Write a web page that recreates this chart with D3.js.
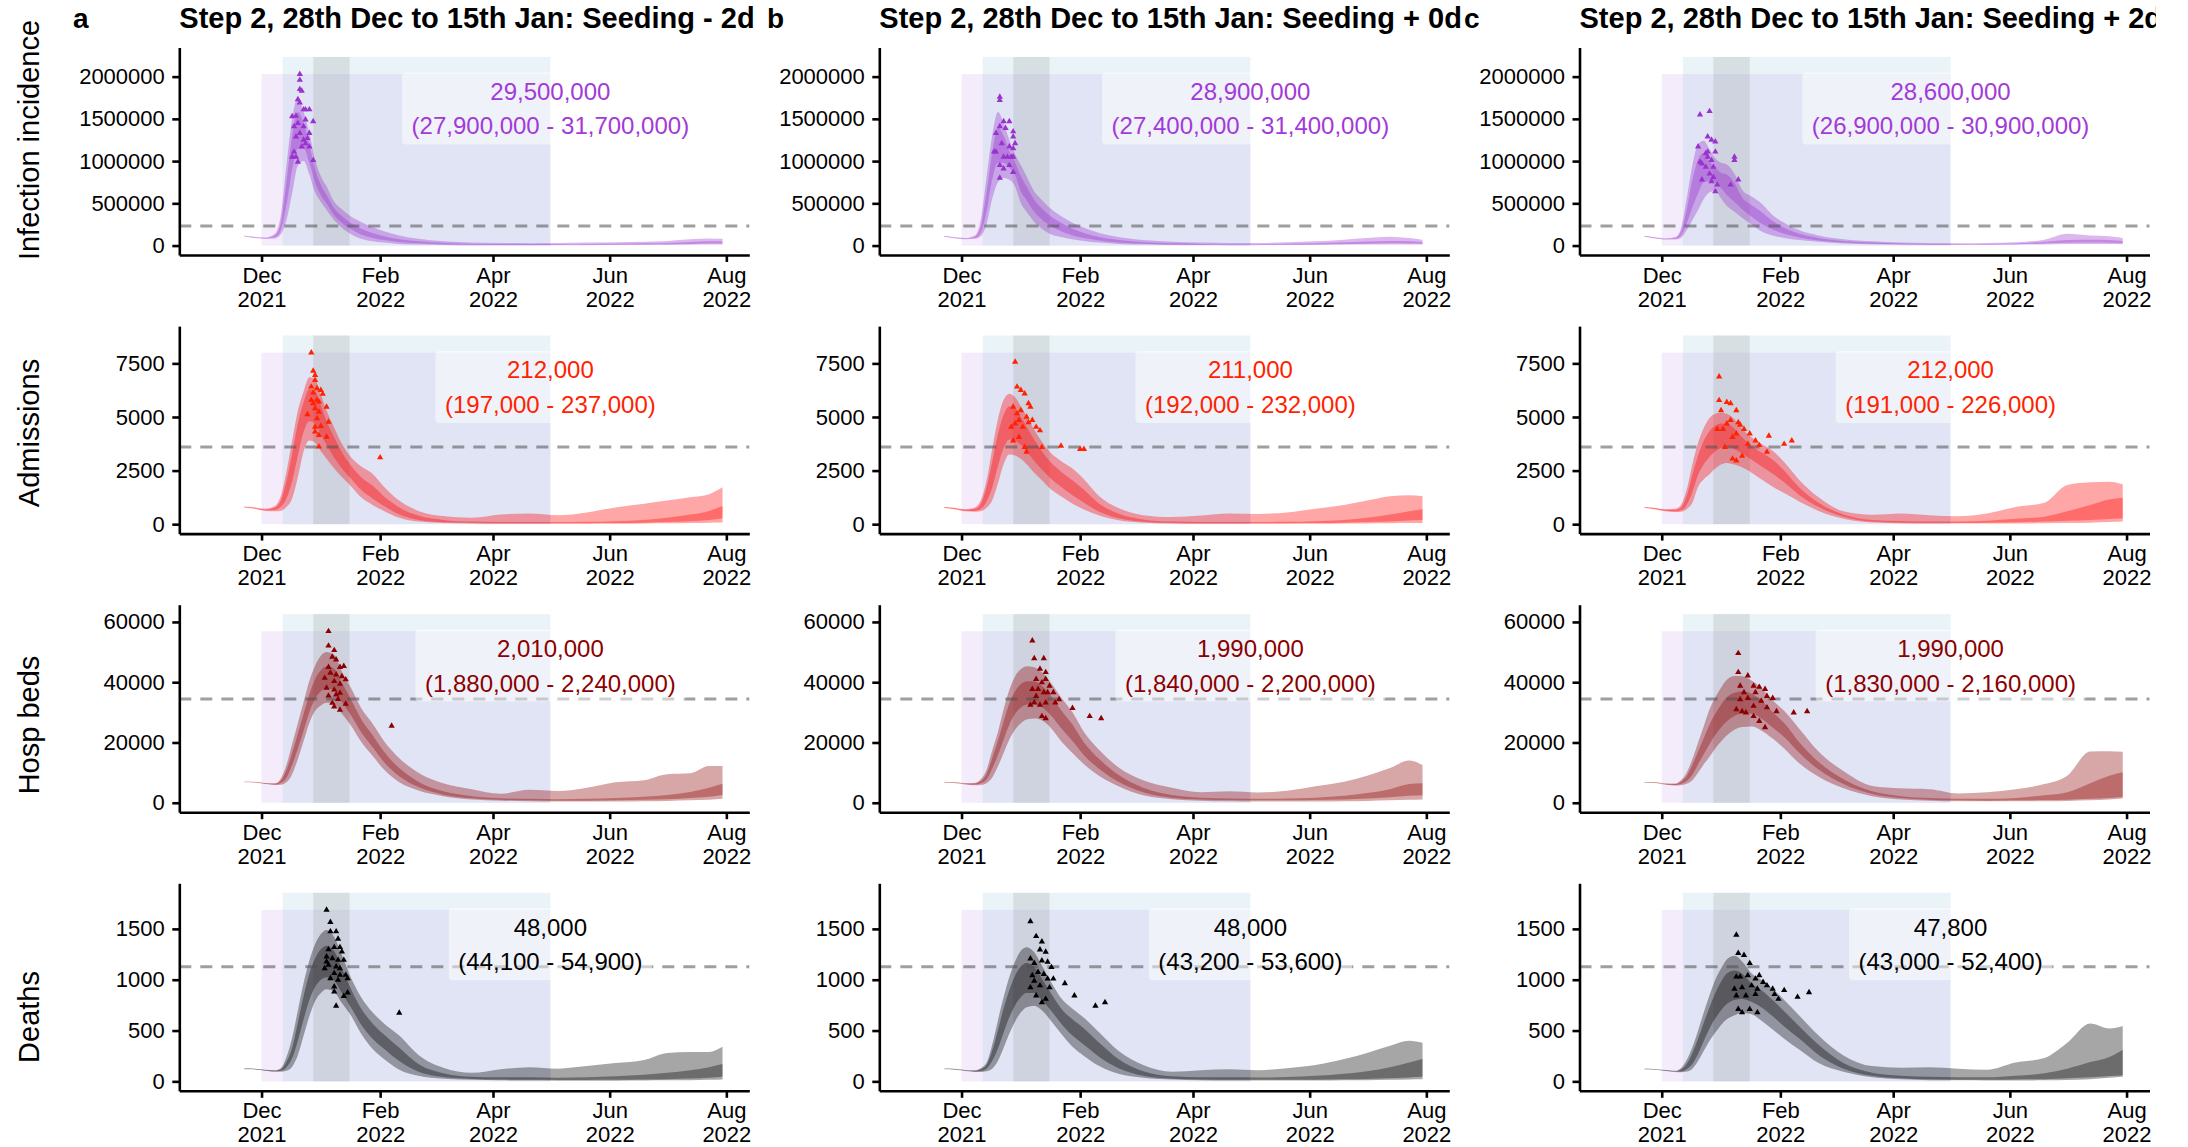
<!DOCTYPE html>
<html>
<head>
<meta charset="utf-8">
<script src="https://cdn.jsdelivr.net/npm/d3@7"></script>
<style>
  body { margin: 0; background: #fff; }
  svg { display: block; }
</style>
</head>
<body>
<svg id="chart" width="2188" height="1147"></svg>
<script>
// ---- data (days counted from 1 Dec 2021) ----
const sampleDays = [-9, -4, 2, 7, 10, 13, 16, 19, 22, 25, 28, 31, 34, 38, 42, 47, 52, 58, 64, 72, 82, 95, 110, 125, 140, 155, 170, 185, 200, 212, 224, 234, 241];

const rowLabels = ["Infection incidence", "Admissions", "Hosp beds", "Deaths"];
const scenarioTitles = [
  "Step 2, 28th Dec to 15th Jan: Seeding - 2d",
  "Step 2, 28th Dec to 15th Jan: Seeding + 0d",
  "Step 2, 28th Dec to 15th Jan: Seeding + 2d"
];
const panelTags = ["a", "b", "c"];
const rowUnits = [1e6, 1e3, 1e3, 1];   // values below are in millions / thousands / units
const yTicks = [[0, 500000, 1000000, 1500000, 2000000], [0, 2500, 5000, 7500], [0, 20000, 40000, 60000], [0, 500, 1000, 1500]];
const xTickDates = ["2021-12-01", "2022-02-01", "2022-04-01", "2022-06-01", "2022-08-01"];
const thresholds = [233000, 3600, 34400, 1128];
const stepPeriod = ["2021-12-01", "2022-05-01"];
const fitPeriod = ["2021-12-12", "2022-05-01"];
const stepWindow = ["2021-12-28", "2022-01-16"];

// infection incidence (millions): 95% and 50% bands, one list per scenario
const infectionHi95 = [
  [0.12, 0.105, 0.095, 0.14, 0.35, 0.95, 1.5, 1.76, 1.58, 1.33, 1.02, 0.82, 0.7, 0.52, 0.43, 0.34, 0.28, 0.22, 0.17, 0.12, 0.08, 0.05, 0.035, 0.03, 0.028, 0.03, 0.035, 0.04, 0.045, 0.055, 0.075, 0.085, 0.08],
  [0.115, 0.1, 0.09, 0.12, 0.3, 0.8, 1.3, 1.58, 1.45, 1.25, 1.08, 0.95, 0.82, 0.64, 0.54, 0.43, 0.35, 0.27, 0.21, 0.15, 0.1, 0.065, 0.045, 0.035, 0.03, 0.03, 0.04, 0.05, 0.07, 0.09, 0.105, 0.09, 0.07],
  [0.115, 0.1, 0.085, 0.1, 0.2, 0.55, 0.95, 1.2, 1.24, 1.14, 1.03, 0.98, 0.96, 0.85, 0.66, 0.58, 0.5, 0.36, 0.27, 0.18, 0.12, 0.075, 0.05, 0.035, 0.03, 0.028, 0.03, 0.04, 0.07, 0.14, 0.12, 0.11, 0.09]
];
const infectionLo95 = [
  [0.108, 0.09, 0.08, 0.085, 0.13, 0.3, 0.62, 0.95, 1.0, 0.84, 0.63, 0.52, 0.42, 0.3, 0.21, 0.13, 0.08, 0.05, 0.035, 0.02, 0.012, 0.008, 0.005, 0.004, 0.004, 0.004, 0.005, 0.006, 0.007, 0.008, 0.01, 0.012, 0.012],
  [0.105, 0.088, 0.075, 0.08, 0.11, 0.25, 0.55, 0.75, 0.8, 0.78, 0.7, 0.5, 0.4, 0.28, 0.2, 0.13, 0.1, 0.075, 0.055, 0.035, 0.02, 0.012, 0.008, 0.006, 0.005, 0.005, 0.006, 0.008, 0.01, 0.012, 0.014, 0.014, 0.013],
  [0.105, 0.088, 0.072, 0.072, 0.09, 0.18, 0.3, 0.42, 0.55, 0.63, 0.65, 0.56, 0.47, 0.4, 0.33, 0.25, 0.17, 0.12, 0.09, 0.065, 0.045, 0.025, 0.015, 0.01, 0.008, 0.007, 0.008, 0.01, 0.014, 0.02, 0.02, 0.018, 0.016]
];
const infectionHi50 = [
  [0.116, 0.1, 0.09, 0.12, 0.26, 0.75, 1.3, 1.58, 1.45, 1.2, 0.9, 0.72, 0.6, 0.44, 0.35, 0.26, 0.2, 0.15, 0.11, 0.075, 0.05, 0.03, 0.02, 0.017, 0.016, 0.017, 0.02, 0.022, 0.026, 0.03, 0.042, 0.05, 0.048],
  [0.112, 0.096, 0.085, 0.105, 0.22, 0.62, 1.1, 1.4, 1.3, 1.12, 0.98, 0.82, 0.7, 0.54, 0.44, 0.34, 0.27, 0.2, 0.15, 0.1, 0.065, 0.04, 0.026, 0.02, 0.017, 0.017, 0.022, 0.028, 0.038, 0.048, 0.055, 0.05, 0.042],
  [0.112, 0.095, 0.08, 0.09, 0.16, 0.42, 0.78, 1.02, 1.1, 1.0, 0.92, 0.86, 0.84, 0.74, 0.57, 0.48, 0.4, 0.29, 0.21, 0.14, 0.09, 0.055, 0.035, 0.024, 0.019, 0.017, 0.019, 0.025, 0.045, 0.065, 0.07, 0.065, 0.055]
];
const infectionLo50 = [
  [0.112, 0.095, 0.085, 0.1, 0.18, 0.48, 0.9, 1.15, 1.15, 0.98, 0.75, 0.6, 0.5, 0.36, 0.27, 0.19, 0.13, 0.09, 0.065, 0.042, 0.026, 0.016, 0.01, 0.008, 0.008, 0.008, 0.01, 0.011, 0.013, 0.015, 0.02, 0.024, 0.024],
  [0.108, 0.092, 0.08, 0.092, 0.15, 0.4, 0.78, 0.98, 0.98, 0.92, 0.84, 0.64, 0.54, 0.4, 0.31, 0.23, 0.17, 0.12, 0.09, 0.06, 0.035, 0.022, 0.014, 0.01, 0.009, 0.009, 0.011, 0.014, 0.018, 0.022, 0.026, 0.025, 0.022],
  [0.108, 0.09, 0.076, 0.08, 0.12, 0.26, 0.45, 0.62, 0.75, 0.76, 0.75, 0.68, 0.6, 0.52, 0.43, 0.34, 0.26, 0.19, 0.14, 0.095, 0.06, 0.036, 0.022, 0.015, 0.012, 0.011, 0.012, 0.015, 0.024, 0.032, 0.035, 0.032, 0.028]
];
const infectionObs = [
  [[20, 2.03], [20, 1.96], [20, 1.85], [21, 1.83], [16, 1.53], [18, 1.535], [22, 1.61], [23, 1.61], [25, 1.61], [19, 1.45], [23, 1.49], [27, 1.47], [17, 1.41], [20, 1.33], [25, 1.33], [18, 1.29], [22, 1.25], [25, 1.17], [17, 1.11], [21, 1.17], [23, 1.21], [16, 1.05], [19, 0.99], [27, 1.01], [18, 1.05], [22, 1.41], [24, 1.27], [20, 1.69], [19, 1.73]],
  [[20, 1.76], [20, 1.72], [18, 1.33], [20, 1.41], [22, 1.47], [23, 1.39], [25, 1.47], [27, 1.35], [27, 1.29], [18, 1.11], [21, 1.21], [22, 1.05], [25, 1.17], [27, 1.15], [28, 1.21], [20, 0.95], [22, 0.91], [25, 0.95], [27, 0.87], [20, 0.8], [24, 1.05], [26, 1.05], [17, 1.11], [27, 1.05]],
  [[20, 1.55], [25, 1.59], [24, 1.29], [26, 1.25], [28, 1.23], [19, 1.17], [23, 1.09], [24, 1.11], [28, 1.11], [20, 0.99], [21, 0.97], [26, 1.01], [27, 0.93], [25, 0.85], [27, 0.81], [21, 0.78], [26, 0.76], [28, 0.64], [38, 1.05], [38, 1.01], [40, 0.78], [36, 0.72], [29, 0.72], [23, 0.93], [24, 1.05]]
];
const infectionTotals = [
  ["29,500,000", "(27,900,000 - 31,700,000)"],
  ["28,900,000", "(27,400,000 - 31,400,000)"],
  ["28,600,000", "(26,900,000 - 30,900,000)"]
];

// admissions (thousands)
const admissionsHi95 = [
  [0.82, 0.79, 0.72, 0.85, 1.3, 2.45, 3.9, 5.3, 6.2, 6.85, 6.75, 6.05, 5.3, 4.5, 3.75, 3.1, 2.7, 2.35, 1.75, 1.1, 0.62, 0.38, 0.3, 0.45, 0.5, 0.42, 0.55, 0.78, 0.95, 1.1, 1.25, 1.4, 1.72],
  [0.8, 0.77, 0.7, 0.78, 1.1, 2.0, 3.5, 4.9, 5.8, 6.08, 5.92, 5.5, 5.05, 4.4, 3.85, 3.3, 2.95, 2.6, 2.1, 1.3, 0.75, 0.42, 0.33, 0.4, 0.5, 0.48, 0.55, 0.72, 0.9, 1.1, 1.3, 1.35, 1.3],
  [0.8, 0.77, 0.7, 0.72, 0.9, 1.6, 2.8, 3.8, 4.5, 4.95, 5.15, 5.2, 5.15, 4.9, 4.45, 4.05, 3.75, 3.42, 2.9, 2.05, 1.25, 0.6, 0.44, 0.5, 0.42, 0.37, 0.5, 0.8, 1.0, 1.83, 1.95, 1.98, 1.86]
];
const admissionsLo95 = [
  [0.78, 0.72, 0.62, 0.6, 0.62, 0.8, 1.2, 2.2, 3.4, 3.9, 3.8, 3.4, 3.05, 2.6, 2.2, 1.75, 1.25, 0.9, 0.62, 0.3, 0.12, 0.05, 0.03, 0.02, 0.02, 0.02, 0.02, 0.02, 0.03, 0.04, 0.05, 0.07, 0.08],
  [0.76, 0.7, 0.6, 0.58, 0.6, 0.75, 1.1, 1.9, 2.8, 3.25, 3.2, 3.05, 2.8, 2.4, 2.05, 1.6, 1.3, 0.95, 0.68, 0.4, 0.18, 0.07, 0.03, 0.02, 0.02, 0.02, 0.02, 0.02, 0.03, 0.035, 0.04, 0.05, 0.06],
  [0.76, 0.7, 0.6, 0.57, 0.58, 0.7, 1.0, 1.75, 2.1, 2.33, 2.6, 2.78, 2.85, 2.78, 2.65, 2.4, 2.1, 1.75, 1.45, 1.05, 0.62, 0.25, 0.08, 0.04, 0.03, 0.03, 0.03, 0.03, 0.04, 0.05, 0.07, 0.1, 0.12]
];
const admissionsHi50 = [
  [0.81, 0.77, 0.69, 0.78, 1.1, 2.0, 3.3, 4.7, 5.7, 6.3, 6.2, 5.55, 4.8, 4.05, 3.35, 2.7, 2.2, 1.8, 1.3, 0.78, 0.4, 0.2, 0.12, 0.1, 0.1, 0.1, 0.11, 0.14, 0.2, 0.3, 0.45, 0.62, 0.85],
  [0.79, 0.75, 0.67, 0.72, 0.95, 1.7, 2.9, 4.2, 5.1, 5.5, 5.4, 5.0, 4.55, 3.95, 3.4, 2.85, 2.45, 2.05, 1.6, 0.95, 0.5, 0.22, 0.12, 0.1, 0.1, 0.1, 0.11, 0.14, 0.2, 0.3, 0.45, 0.6, 0.7],
  [0.79, 0.75, 0.67, 0.67, 0.78, 1.3, 2.3, 3.2, 3.9, 4.35, 4.6, 4.7, 4.68, 4.45, 4.05, 3.65, 3.35, 3.0, 2.5, 1.7, 1.0, 0.45, 0.2, 0.15, 0.12, 0.12, 0.16, 0.25, 0.35, 0.6, 0.9, 1.15, 1.23]
];
const admissionsLo50 = [
  [0.79, 0.74, 0.65, 0.66, 0.8, 1.2, 2.0, 3.2, 4.3, 4.8, 4.7, 4.2, 3.7, 3.1, 2.6, 2.1, 1.6, 1.2, 0.85, 0.45, 0.2, 0.09, 0.05, 0.04, 0.04, 0.04, 0.045, 0.055, 0.07, 0.1, 0.14, 0.2, 0.28],
  [0.77, 0.72, 0.63, 0.62, 0.7, 1.05, 1.7, 2.7, 3.55, 3.95, 3.9, 3.7, 3.4, 2.95, 2.55, 2.1, 1.75, 1.35, 1.0, 0.58, 0.28, 0.11, 0.05, 0.04, 0.04, 0.04, 0.045, 0.055, 0.07, 0.1, 0.13, 0.17, 0.2],
  [0.77, 0.72, 0.63, 0.6, 0.64, 0.9, 1.5, 2.3, 2.8, 3.15, 3.4, 3.55, 3.6, 3.5, 3.3, 3.0, 2.7, 2.35, 1.95, 1.35, 0.8, 0.35, 0.12, 0.07, 0.06, 0.06, 0.07, 0.09, 0.12, 0.16, 0.2, 0.24, 0.28]
];
const admissionsObs = [
  [[26, 8.0], [27, 7.15], [28, 6.95], [28, 6.72], [26, 6.41], [29, 6.33], [31, 6.25], [32, 6.07], [27, 6.13], [26, 5.79], [29, 5.79], [30, 5.71], [34, 5.47], [24, 5.12], [28, 5.4], [30, 5.24], [35, 4.77], [28, 4.54], [31, 4.57], [28, 4.31], [30, 4.15], [34, 4.07], [30, 3.61], [62, 3.11], [29, 4.93], [27, 5.63]],
  [[28, 7.57], [29, 6.41], [31, 6.25], [33, 6.09], [35, 5.63], [36, 5.47], [27, 5.47], [29, 5.16], [31, 5.31], [34, 5.0], [37, 4.85], [26, 4.53], [28, 4.69], [30, 4.85], [32, 4.53], [35, 4.75], [39, 4.53], [27, 3.9], [30, 4.06], [33, 3.59], [34, 3.37], [42, 3.59], [52, 3.65], [62, 3.5], [64, 3.5], [41, 4.37]],
  [[30, 6.88], [30, 5.78], [31, 5.31], [34, 5.69], [36, 5.63], [39, 5.31], [29, 4.43], [32, 4.43], [34, 4.69], [36, 4.85], [40, 4.75], [41, 4.63], [43, 4.43], [39, 4.22], [37, 4.06], [46, 4.22], [49, 3.9], [51, 3.68], [56, 4.12], [64, 3.74], [68, 3.9], [33, 3.59], [37, 3.05], [39, 2.96], [42, 3.18], [55, 3.37], [45, 3.74]]
];
const admissionsTotals = [
  ["212,000", "(197,000 - 237,000)"],
  ["211,000", "(192,000 - 232,000)"],
  ["212,000", "(191,000 - 226,000)"]
];

// hospital beds (thousands)
const bedsHi95 = [
  [7.0, 7.0, 6.6, 6.5, 8.0, 12.5, 19.5, 26.5, 33.5, 40.5, 45.5, 48.8, 50.0, 49.0, 43.5, 37.8, 31.5, 26.3, 20.5, 14.8, 10.0, 6.5, 4.5, 3.0, 4.3, 3.9, 5.0, 6.8, 7.5, 9.5, 9.8, 12.2, 12.2],
  [6.9, 6.9, 6.5, 6.6, 7.8, 10.8, 17.3, 23.5, 31.0, 37.5, 42.0, 44.3, 45.3, 45.0, 43.3, 39.6, 35.0, 30.0, 23.5, 17.5, 11.8, 7.5, 5.0, 3.5, 3.8, 3.4, 4.0, 5.5, 7.0, 9.0, 11.5, 14.0, 12.5],
  [6.9, 6.9, 6.4, 6.4, 7.5, 10.0, 14.5, 20.0, 25.5, 31.0, 35.0, 38.2, 40.8, 42.1, 42.0, 40.6, 38.2, 34.0, 30.5, 24.5, 17.0, 10.5, 5.6, 4.8, 4.5, 3.1, 3.5, 4.5, 6.2, 9.0, 17.0, 17.1, 16.9]
];
const bedsLo95 = [
  [6.8, 6.7, 6.2, 5.9, 6.0, 6.8, 9.5, 14.5, 20.5, 26.5, 30.5, 32.3, 33.2, 32.6, 29.5, 25.4, 20.3, 15.6, 11.0, 6.8, 4.1, 2.2, 1.1, 0.7, 0.5, 0.4, 0.4, 0.4, 0.5, 0.6, 0.8, 1.0, 1.3],
  [6.7, 6.6, 6.1, 5.8, 5.9, 6.5, 8.3, 12.0, 16.5, 21.0, 24.3, 26.4, 27.6, 28.0, 27.4, 24.6, 20.5, 16.5, 12.8, 8.9, 5.5, 2.5, 1.2, 0.7, 0.5, 0.4, 0.4, 0.4, 0.5, 0.6, 0.8, 1.0, 1.1],
  [6.7, 6.6, 6.0, 5.7, 5.8, 6.3, 7.5, 10.0, 12.8, 15.3, 18.0, 20.3, 22.3, 24.2, 25.1, 25.3, 24.0, 21.3, 18.0, 13.0, 8.6, 4.8, 2.2, 1.1, 0.7, 0.5, 0.5, 0.5, 0.5, 0.6, 0.8, 1.1, 1.4]
];
const bedsHi50 = [
  [6.95, 6.9, 6.5, 6.3, 7.3, 10.8, 16.5, 23.0, 29.5, 36.0, 41.0, 44.0, 45.3, 44.5, 39.8, 34.0, 27.8, 22.5, 17.0, 11.5, 7.0, 3.8, 2.2, 1.5, 1.3, 1.2, 1.3, 1.6, 2.0, 2.6, 3.6, 5.0, 6.3],
  [6.85, 6.8, 6.4, 6.4, 7.2, 9.5, 14.8, 20.5, 27.0, 33.0, 37.0, 39.3, 40.3, 40.2, 38.8, 35.3, 30.8, 26.0, 20.0, 14.5, 9.3, 5.0, 2.6, 1.7, 1.4, 1.3, 1.4, 1.7, 2.3, 3.2, 4.5, 6.2, 6.5],
  [6.85, 6.8, 6.3, 6.2, 7.0, 8.8, 12.5, 17.0, 21.5, 26.0, 29.5, 32.5, 35.0, 36.5, 37.0, 36.2, 34.0, 30.0, 26.5, 20.0, 13.5, 7.8, 3.8, 2.2, 1.6, 1.3, 1.3, 1.6, 2.5, 3.5, 6.5, 9.0, 10.1]
];
const bedsLo50 = [
  [6.85, 6.8, 6.35, 6.05, 6.5, 8.3, 12.5, 18.0, 24.0, 30.0, 34.5, 37.0, 38.0, 37.3, 33.5, 28.8, 23.5, 18.5, 13.5, 8.8, 5.2, 2.7, 1.5, 1.0, 0.8, 0.7, 0.7, 0.8, 1.0, 1.2, 1.6, 2.0, 2.6],
  [6.75, 6.7, 6.25, 6.05, 6.4, 7.7, 11.3, 15.8, 21.0, 26.0, 29.5, 31.6, 32.6, 32.8, 31.8, 28.8, 24.8, 20.5, 15.8, 11.2, 7.0, 3.5, 1.7, 1.1, 0.9, 0.8, 0.8, 0.9, 1.1, 1.4, 1.8, 2.3, 2.5],
  [6.75, 6.7, 6.15, 5.9, 6.2, 7.2, 9.3, 12.8, 16.2, 19.5, 22.5, 25.0, 27.0, 28.8, 29.6, 29.5, 28.0, 25.0, 21.8, 16.5, 11.0, 6.2, 2.9, 1.6, 1.0, 0.8, 0.7, 0.8, 0.9, 1.0, 1.3, 1.6, 1.9]
];
const bedsObs = [
  [[35, 56.9], [35, 52.1], [38, 50.6], [37, 48.4], [39, 47.5], [35, 45.0], [41, 45.0], [43, 45.3], [36, 43.1], [39, 42.5], [42, 41.9], [33, 41.4], [38, 40.3], [44, 40.9], [34, 38.1], [38, 37.5], [41, 36.4], [35, 35.5], [40, 34.4], [37, 33.1], [44, 32.8], [38, 31.9], [41, 30.8], [68, 25.5], [39, 35.9], [41, 39.4]],
  [[37, 53.8], [38, 47.9], [43, 47.9], [41, 44.4], [44, 43.3], [39, 41.0], [42, 39.9], [44, 41.0], [46, 38.8], [37, 37.7], [40, 37.7], [43, 36.6], [48, 36.6], [51, 34.3], [36, 32.5], [38, 33.2], [41, 32.5], [44, 33.2], [49, 33.2], [58, 31.4], [42, 28.7], [44, 28.0], [67, 28.7], [73, 28.0], [39, 35.4], [45, 36.6]],
  [[40, 49.6], [40, 43.3], [45, 42.2], [41, 38.8], [48, 38.8], [51, 38.4], [54, 37.7], [43, 36.6], [49, 36.6], [55, 35.4], [41, 34.3], [45, 34.7], [52, 33.8], [58, 34.7], [39, 31.0], [42, 30.3], [48, 32.1], [55, 31.6], [60, 30.3], [51, 27.1], [54, 25.0], [69, 29.9], [76, 30.3], [44, 29.9], [48, 28.7]]
];
const bedsTotals = [
  ["2,010,000", "(1,880,000 - 2,240,000)"],
  ["1,990,000", "(1,840,000 - 2,200,000)"],
  ["1,990,000", "(1,830,000 - 2,160,000)"]
];

// deaths
const deathsHi95 = [
  [128, 125, 115, 110, 130, 240, 430, 700, 970, 1190, 1350, 1450, 1490, 1420, 1240, 1010, 830, 680, 570, 450, 260, 135, 85, 120, 140, 125, 150, 180, 210, 280, 290, 290, 340],
  [126, 123, 113, 110, 130, 180, 360, 600, 830, 1030, 1180, 1285, 1320, 1270, 1140, 970, 820, 715, 625, 480, 300, 160, 95, 110, 120, 110, 130, 160, 220, 280, 350, 400, 380],
  [125, 122, 112, 105, 130, 210, 335, 500, 680, 850, 1000, 1110, 1200, 1235, 1180, 1060, 1000, 910, 800, 645, 450, 255, 150, 135, 140, 125, 115, 185, 230, 380, 570, 520, 545]
];
const deathsLo95 = [
  [120, 118, 105, 95, 95, 105, 145, 260, 450, 640, 790, 870, 905, 880, 770, 640, 470, 320, 220, 115, 55, 25, 15, 10, 8, 7, 7, 7, 8, 10, 12, 15, 18],
  [118, 115, 103, 93, 92, 100, 125, 200, 330, 470, 590, 680, 730, 745, 700, 590, 470, 340, 250, 150, 75, 35, 18, 12, 9, 8, 8, 8, 10, 12, 15, 18, 20],
  [118, 115, 102, 92, 90, 96, 125, 200, 300, 400, 480, 555, 610, 650, 675, 660, 600, 510, 420, 311, 180, 95, 40, 20, 12, 10, 9, 9, 10, 14, 22, 35, 46]
];
const deathsHi50 = [
  [126, 123, 112, 105, 118, 190, 330, 580, 840, 1060, 1210, 1300, 1335, 1280, 1110, 900, 720, 570, 460, 330, 170, 80, 45, 40, 40, 35, 40, 50, 65, 85, 110, 140, 170],
  [124, 121, 110, 104, 118, 160, 300, 500, 720, 900, 1040, 1130, 1165, 1125, 1010, 860, 720, 610, 520, 380, 220, 100, 50, 40, 40, 38, 42, 55, 75, 100, 140, 185, 220],
  [123, 120, 109, 100, 116, 170, 280, 420, 580, 730, 870, 980, 1060, 1090, 1060, 960, 900, 800, 690, 540, 360, 180, 85, 55, 45, 40, 40, 55, 80, 125, 190, 240, 311]
];
const deathsLo50 = [
  [123, 120, 108, 99, 104, 140, 230, 400, 610, 800, 930, 1000, 1025, 990, 870, 720, 560, 420, 320, 200, 95, 42, 24, 18, 15, 14, 14, 15, 18, 22, 28, 36, 45],
  [121, 118, 106, 98, 102, 125, 200, 320, 480, 630, 750, 830, 870, 870, 800, 690, 570, 450, 360, 240, 130, 55, 26, 19, 16, 15, 15, 17, 20, 24, 30, 38, 45],
  [120, 117, 105, 96, 98, 120, 170, 270, 400, 520, 620, 700, 760, 800, 810, 780, 730, 640, 540, 420, 260, 125, 55, 30, 20, 17, 16, 18, 22, 30, 40, 52, 60]
];
const deathsObs = [
  [[34, 1687], [36, 1566], [36, 1474], [39, 1474], [40, 1401], [38, 1319], [41, 1319], [35, 1299], [42, 1276], [34, 1227], [37, 1210], [40, 1194], [43, 1194], [35, 1145], [39, 1128], [41, 1112], [33, 1112], [38, 1063], [44, 1046], [36, 1013], [40, 997], [45, 1013], [38, 931], [38, 881], [45, 872], [43, 839], [39, 743], [72, 674], [41, 1046], [34, 1178]],
  [[36, 1573], [39, 1427], [42, 1374], [41, 1295], [44, 1274], [36, 1208], [38, 1163], [42, 1188], [45, 1175], [47, 1122], [37, 1042], [40, 1075], [43, 1055], [45, 1009], [36, 923], [41, 943], [46, 923], [54, 963], [39, 843], [44, 810], [42, 777], [59, 843], [70, 743], [75, 777], [38, 989], [48, 1009]],
  [[39, 1441], [40, 1261], [43, 1241], [46, 1162], [41, 1029], [39, 1029], [45, 1042], [49, 1009], [51, 1042], [53, 976], [38, 910], [42, 923], [47, 943], [50, 910], [55, 943], [58, 910], [39, 843], [44, 843], [49, 857], [59, 857], [61, 810], [40, 710], [46, 710], [50, 677], [64, 896], [71, 830], [77, 876], [42, 677]]
];
const deathsTotals = [
  ["48,000", "(44,100 - 54,900)"],
  ["48,000", "(43,200 - 53,600)"],
  ["47,800", "(43,000 - 52,400)"]
];

// ---- styling / layout ----
const FONT = '"Liberation Sans", Arial, Helvetica, sans-serif';
const bandColors = ["#9932cc", "#ff0000", "#8b0000", "#000000"];
const pointColors = ["#9a32cd", "#ff2200", "#8b0000", "#000000"];
const labelColors = ["#a23ad8", "#ff2200", "#8b0000", "#000000"];
const colX = [179.3, 879.3, 1579.5];
const rowY = [47.5, 326.1, 604.7, 883.3];
const yTitleY = [140, 433, 725, 1017];
const tagX = [73, 767, 1464];
const panelW = 570, panelH = 207.5;

const rows = [
  {hi95: infectionHi95, lo95: infectionLo95, hi50: infectionHi50, lo50: infectionLo50, obs: infectionObs, totals: infectionTotals},
  {hi95: admissionsHi95, lo95: admissionsLo95, hi50: admissionsHi50, lo50: admissionsLo50, obs: admissionsObs, totals: admissionsTotals},
  {hi95: bedsHi95, lo95: bedsLo95, hi50: bedsHi50, lo50: bedsLo50, obs: bedsObs, totals: bedsTotals},
  {hi95: deathsHi95, lo95: deathsLo95, hi50: deathsHi50, lo50: deathsLo50, obs: deathsObs, totals: deathsTotals}
];

const svg = d3.select("#chart");
const parse = d3.timeParse("%Y-%m-%d");
const dec1 = parse("2021-12-01");
const toDate = d => d3.timeDay.offset(dec1, d);

const x = d3.scaleTime()
  .domain([parse("2021-10-19"), parse("2022-08-13")])
  .range([0, panelW]);

// the last title runs past its cell and is cut, as in the original figure
svg.append("clipPath").attr("id", "titleClip")
  .append("rect").attr("x", 0).attr("y", 0).attr("width", 2156).attr("height", 40);

rows.forEach((row, r) => {
  const unit = rowUnits[r];
  const maxObs = d3.max(row.obs.flat(), d => d[1]) * unit;
  const top = maxObs * 1.1;
  const y = d3.scaleLinear().domain([-0.05 * top, 1.05 * top]).range([panelH, 0]);

  const area = d3.area()
    .x(d => x(d.date))
    .y0(d => y(d.lo))
    .y1(d => y(d.hi))
    .curve(d3.curveMonotoneX);

  for (let c = 0; c < 3; c++) {
    const g = svg.append("g").attr("transform", `translate(${colX[c]},${rowY[r]})`);

    // shaded periods
    g.append("rect")
      .attr("x", x(parse(stepPeriod[0]))).attr("width", x(parse(stepPeriod[1])) - x(parse(stepPeriod[0])))
      .attr("y", y(maxObs)).attr("height", y(0) - y(maxObs))
      .attr("fill", "rgb(180,130,220)").attr("fill-opacity", 0.15);
    g.append("rect")
      .attr("x", x(parse(fitPeriod[0]))).attr("width", x(parse(fitPeriod[1])) - x(parse(fitPeriod[0])))
      .attr("y", y(top)).attr("height", y(0) - y(top))
      .attr("fill", "rgb(150,200,220)").attr("fill-opacity", 0.2);
    g.append("rect")
      .attr("x", x(parse(stepWindow[0]))).attr("width", x(parse(stepWindow[1])) - x(parse(stepWindow[0])))
      .attr("y", y(top)).attr("height", y(0) - y(top))
      .attr("fill", "rgb(110,110,110)").attr("fill-opacity", 0.15);

    const band95 = sampleDays.map((d, i) => ({date: toDate(d), lo: row.lo95[c][i] * unit, hi: row.hi95[c][i] * unit}));
    const band50 = sampleDays.map((d, i) => ({date: toDate(d), lo: row.lo50[c][i] * unit, hi: row.hi50[c][i] * unit}));

    g.append("path").datum(band95).attr("d", area)
      .attr("fill", bandColors[r]).attr("fill-opacity", 0.35);
    g.append("path").datum(band50).attr("d", area)
      .attr("fill", bandColors[r]).attr("fill-opacity", 0.35);

    // threshold line
    g.append("line")
      .attr("x1", 0).attr("x2", panelW)
      .attr("y1", y(thresholds[r])).attr("y2", y(thresholds[r]))
      .attr("stroke", "rgb(80,80,80)").attr("stroke-opacity", 0.55)
      .attr("stroke-width", 3).attr("stroke-dasharray", "12,9");

    // observed data
    g.selectAll("path.obs").data(row.obs[c]).join("path")
      .attr("class", "obs")
      .attr("transform", d => `translate(${x(toDate(d[0]))},${y(d[1] * unit)})`)
      .attr("d", d3.symbol(d3.symbolTriangle, 17))
      .attr("fill", pointColors[r]);

    // total label
    const lx = x(parse(stepPeriod[1])), ly = y(0.8 * maxObs);
    const lg = g.append("g").attr("font-family", FONT).attr("font-size", 24)
      .attr("fill", labelColors[r]).attr("text-anchor", "middle");
    const box = lg.append("rect");
    const t1 = lg.append("text").attr("x", lx).attr("y", ly - 8.5).text(row.totals[c][0]);
    const t2 = lg.append("text").attr("x", lx).attr("y", ly + 26).text(row.totals[c][1]);
    const w = Math.max(t1.node().getComputedTextLength(), t2.node().getComputedTextLength()) + 19;
    box.attr("x", lx - w / 2).attr("y", ly - 36).attr("width", w).attr("height", 72)
      .attr("rx", 4).attr("fill", "#fff").attr("fill-opacity", 0.5);

    // axes
    const ya = g.append("g")
      .call(d3.axisLeft(y).tickValues(yTicks[r]).tickSize(7).tickPadding(7.5)
        .tickSizeOuter(0).tickFormat(d3.format("d")));
    ya.attr("font-family", FONT).attr("font-size", 22);
    ya.selectAll(".domain, .tick line").attr("stroke", "#000").attr("stroke-width", 2.6);
    ya.selectAll(".tick text").attr("fill", "#000");

    const xa = g.append("g").attr("transform", `translate(0,${panelH})`)
      .call(d3.axisBottom(x).tickValues(xTickDates.map(parse)).tickSize(7)
        .tickSizeOuter(0).tickFormat(""));
    xa.attr("font-family", FONT).attr("font-size", 22);
    xa.selectAll(".domain, .tick line").attr("stroke", "#000").attr("stroke-width", 2.6);
    xa.selectAll(".tick").each(function(d) {
      const t = d3.select(this).append("text").attr("fill", "#000").attr("text-anchor", "middle");
      t.append("tspan").attr("x", 0).attr("y", 27.5).text(d3.timeFormat("%b")(d));
      t.append("tspan").attr("x", 0).attr("y", 51.5).text(d3.timeFormat("%Y")(d));
    });
  }

  // row title
  svg.append("text")
    .attr("transform", `translate(38.8,${yTitleY[r]}) rotate(-90)`)
    .attr("text-anchor", "middle")
    .attr("font-family", FONT).attr("font-size", 29)
    .text(rowLabels[r]);
});

// column titles and panel tags
scenarioTitles.forEach((t, c) => {
  svg.append("text")
    .attr("x", colX[c]).attr("y", 28)
    .attr("font-family", FONT).attr("font-size", 29).attr("font-weight", "bold")
    .attr("clip-path", "url(#titleClip)")
    .text(t);
  svg.append("text")
    .attr("x", tagX[c]).attr("y", 28)
    .attr("font-family", FONT).attr("font-size", 28).attr("font-weight", "bold")
    .text(panelTags[c]);
});
</script>
</body>
</html>
